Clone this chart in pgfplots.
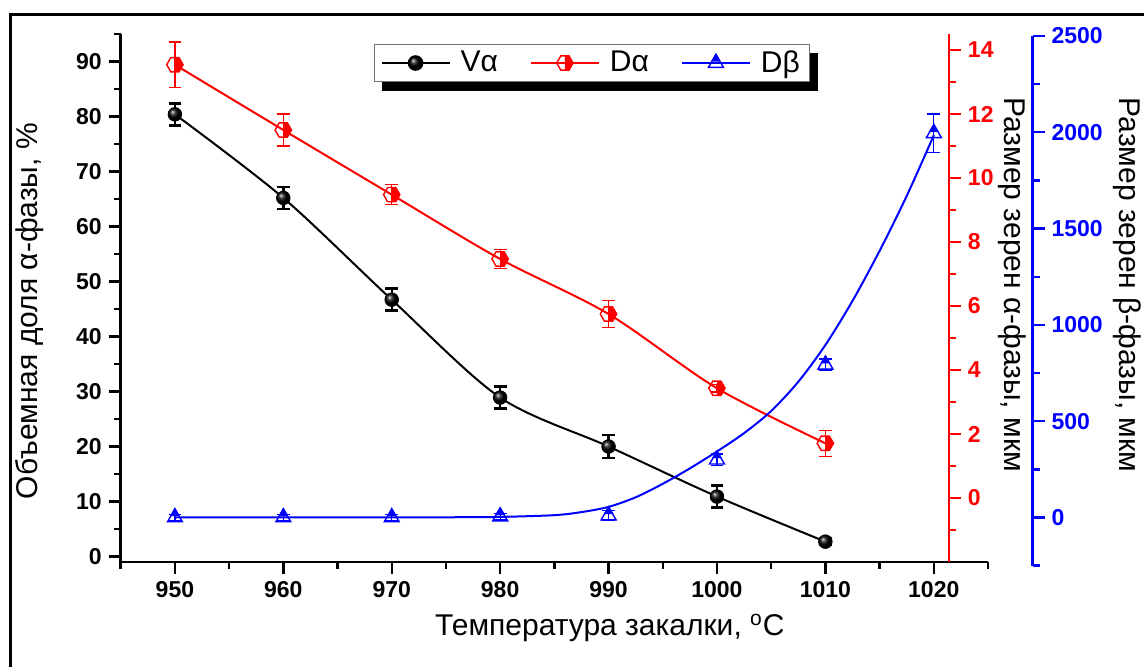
\documentclass[border=0pt]{standalone}
\usepackage{fontspec}
\setmainfont{Liberation Sans}
\usepackage{pgfplots}
\pgfplotsset{compat=1.18}
\usepackage{pgfplotstable}

\pgfdeclareplotmark{halfhex}{%
  \pgfpathmoveto{\pgfqpoint{0pt}{0.866\pgfplotmarksize}}%
  \pgfpathlineto{\pgfqpoint{0.5\pgfplotmarksize}{0.866\pgfplotmarksize}}%
  \pgfpathlineto{\pgfqpoint{\pgfplotmarksize}{0pt}}%
  \pgfpathlineto{\pgfqpoint{0.5\pgfplotmarksize}{-0.866\pgfplotmarksize}}%
  \pgfpathlineto{\pgfqpoint{0pt}{-0.866\pgfplotmarksize}}%
  \pgfpathclose
  \pgfusepathqfill
  \pgfpathmoveto{\pgfqpoint{\pgfplotmarksize}{0pt}}%
  \pgfpathlineto{\pgfqpoint{0.5\pgfplotmarksize}{0.866\pgfplotmarksize}}%
  \pgfpathlineto{\pgfqpoint{-0.5\pgfplotmarksize}{0.866\pgfplotmarksize}}%
  \pgfpathlineto{\pgfqpoint{-\pgfplotmarksize}{0pt}}%
  \pgfpathlineto{\pgfqpoint{-0.5\pgfplotmarksize}{-0.866\pgfplotmarksize}}%
  \pgfpathlineto{\pgfqpoint{0.5\pgfplotmarksize}{-0.866\pgfplotmarksize}}%
  \pgfpathclose
  \pgfusepathqstroke
}
\pgfdeclareplotmark{halftri}{%
  \pgfpathmoveto{\pgfqpoint{0pt}{\pgfplotmarksize}}%
  \pgfpathlineto{\pgfqpoint{0.433\pgfplotmarksize}{0.25\pgfplotmarksize}}%
  \pgfpathlineto{\pgfqpoint{-0.433\pgfplotmarksize}{0.25\pgfplotmarksize}}%
  \pgfpathclose
  \pgfusepathqfillstroke
  \pgfpathmoveto{\pgfqpoint{0pt}{\pgfplotmarksize}}%
  \pgfpathlineto{\pgfqpoint{0.866\pgfplotmarksize}{-0.5\pgfplotmarksize}}%
  \pgfpathlineto{\pgfqpoint{-0.866\pgfplotmarksize}{-0.5\pgfplotmarksize}}%
  \pgfpathclose
  \pgfusepathqstroke
}

\pgfplotstableread{
T V e
950 80.4 2.0
960 65.2 2.0
970 46.7 2.0
980 28.9 2.0
990 20.0 2.1
1000 10.9 2.0
1010 2.7 0.6
}\tVa
\pgfplotstableread{
T D e
950 13.54 0.71
960 11.50 0.50
970 9.48 0.31
980 7.47 0.30
990 5.75 0.42
1000 3.43 0.12
1010 1.71 0.41
}\tDa
\pgfplotstableread{
T D e
950 0 15
960 0 15
970 0 15
980 5 15
990 10 25
1000 300 30
1010 793 30
1020 1995 100
}\tDb
\pgfplotstableread{
T D
950 0
960 0
970 0.5
975 1
980 3
985 12
987.5 28
990 55
992.5 105
995 175
997.5 255
1000 343
1002.5 438
1005 553
1007.5 705
1010 896
1012.5 1125
1015 1385
1017.5 1670
1020 1985
}\tDbfit

\pgfplotsset{
  myaxis/.style={
    scale only axis, anchor=south west, clip=false,
    tick align=outside, major tick length=6pt, minor tick length=3.5pt,
    axis line style={line width=1.2pt},
    every tick/.style={line width=1.2pt},
    tick label style={font=\bfseries\fontsize{11.5}{13}\selectfont},
    /pgf/number format/assume math mode=true,
    /pgf/number format/set thousands separator={},
  },
  legend image code/.code={%
    \draw[#1,mark=none] (0pt,0pt) -- (34pt,0pt);
    \draw[#1,only marks] plot coordinates {(17pt,0pt)};},
}

\begin{document}
\begin{tikzpicture}
\useasboundingbox (0,0) rectangle (572pt,333pt);
\draw[line width=1.5pt] (5pt,-10pt) -- (5pt,325.5pt) -- (600pt,325.5pt);

% main (left) axis
\begin{axis}[myaxis,
  at={(60.35pt,52pt)}, width=433.65pt, height=264pt,
  xmin=945, xmax=1025, ymin=-1, ymax=95,
  axis x line*=bottom, axis y line*=left,
  xtick={950,960,...,1020}, minor xtick={945,955,...,1025},
  ytick={0,10,...,90}, minor ytick={5,15,...,95},
  xlabel={Температура закалки, \textsuperscript{o}C},
  ylabel={Объемная доля α-фазы, \%},
  legend columns=3,
  legend style={name=leg, at={(0.292,0.981)}, anchor=north west, draw=black!55, line width=0.6pt,
    fill=white, font=\fontsize{15}{18}\selectfont, inner xsep=3pt, inner ysep=1pt,
    /tikz/every even column/.append style={column sep=14pt},
    /tikz/every odd column/.append style={column sep=3pt}},
  every axis x label/.style={at={(axis description cs:0.564,-0.125)}, anchor=center, font=\fontsize{15}{18}\selectfont},
  every axis y label/.style={at={(axis description cs:-0.1046,0.475)}, anchor=center, rotate=90, font=\fontsize{15}{18}\selectfont},
]
\addlegendimage{black, line width=1pt, mark=ball, mark size=3.4pt, mark options={ball color=black}}
\addlegendentry{Vα}
\addlegendimage{red, line width=1pt, mark=halfhex, mark size=4.1pt, mark options={line width=0.7pt}}
\addlegendentry{Dα}
\addlegendimage{blue, line width=1pt, mark=halftri, mark size=4.3pt, mark options={line width=0.7pt}}
\addlegendentry{Dβ}

\addplot[black, line width=1pt, smooth, mark=none, forget plot] table[x=T, y=V] {\tVa};
\addplot[black, only marks, mark=ball, mark size=3.4pt, mark options={ball color=black}, forget plot,
  error bars/.cd, y dir=both, y explicit,
  error bar style={line width=1.2pt, black},
  error mark options={rotate=90, mark size=3.2pt, line width=1.2pt, black}]
  table[x=T, y=V, y error=e] {\tVa};
\end{axis}
% legend shadow (visible strips only)
\fill[black] ([xshift=4pt,yshift=-4.5pt]leg.south west) rectangle ([xshift=4pt]leg.south east);
\fill[black] (leg.south east) rectangle ([xshift=4pt,yshift=-4.5pt]leg.north east);

% red axis
\begin{axis}[myaxis,
  at={(60.35pt,52pt)}, width=414.1pt, height=264pt,
  xmin=945, xmax=1021.4, ymin=-2, ymax=14.5,
  hide x axis, axis y line*=right,
  axis line style={red, line width=1.2pt},
  every tick/.append style={red},
  yticklabel style={red},
  ytick={0,2,...,14}, minor ytick={-1,1,...,13},
  ylabel={Размер зерен α-фазы, мкм},
  every axis y label/.style={at={(axis description cs:1.076,0.525)}, anchor=center, rotate=-90, font=\fontsize{15}{18}\selectfont},
]
\addplot[red, line width=1pt, smooth, mark=none] table[x=T, y=D] {\tDa};
\addplot[red, only marks, mark=halfhex, mark size=4.1pt, mark options={line width=0.7pt},
  error bars/.cd, y dir=both, y explicit,
  error bar style={line width=0.6pt, red},
  error mark options={rotate=90, mark size=3.2pt, line width=0.6pt, red}]
  table[x=T, y=D, y error=e] {\tDa};
\end{axis}

% blue axis
\begin{axis}[myaxis,
  at={(60.35pt,50pt)}, width=455.9pt, height=265pt,
  xmin=945, xmax=1029.1, ymin=-252, ymax=2500,
  hide x axis, axis y line*=right,
  axis line style={blue, line width=1.2pt},
  every tick/.append style={blue},
  yticklabel style={blue},
  ytick={0,500,...,2500}, minor ytick={-250,250,750,1250,1750,2250},
  ylabel={Размер зерен β-фазы, мкм},
  every axis y label/.style={at={(axis description cs:1.1036,0.53)}, anchor=center, rotate=-90, font=\fontsize{15}{18}\selectfont},
]
\addplot[blue, line width=1pt, smooth, mark=none] table[x=T, y=D] {\tDbfit};
\addplot[blue, only marks, mark=halftri, mark size=4.3pt, mark options={line width=0.7pt},
  error bars/.cd, y dir=both, y explicit,
  error bar style={line width=0.6pt, blue},
  error mark options={rotate=90, mark size=3.2pt, line width=0.6pt, blue}]
  table[x=T, y=D, y error=e] {\tDb};
\end{axis}
\end{tikzpicture}
\end{document}
